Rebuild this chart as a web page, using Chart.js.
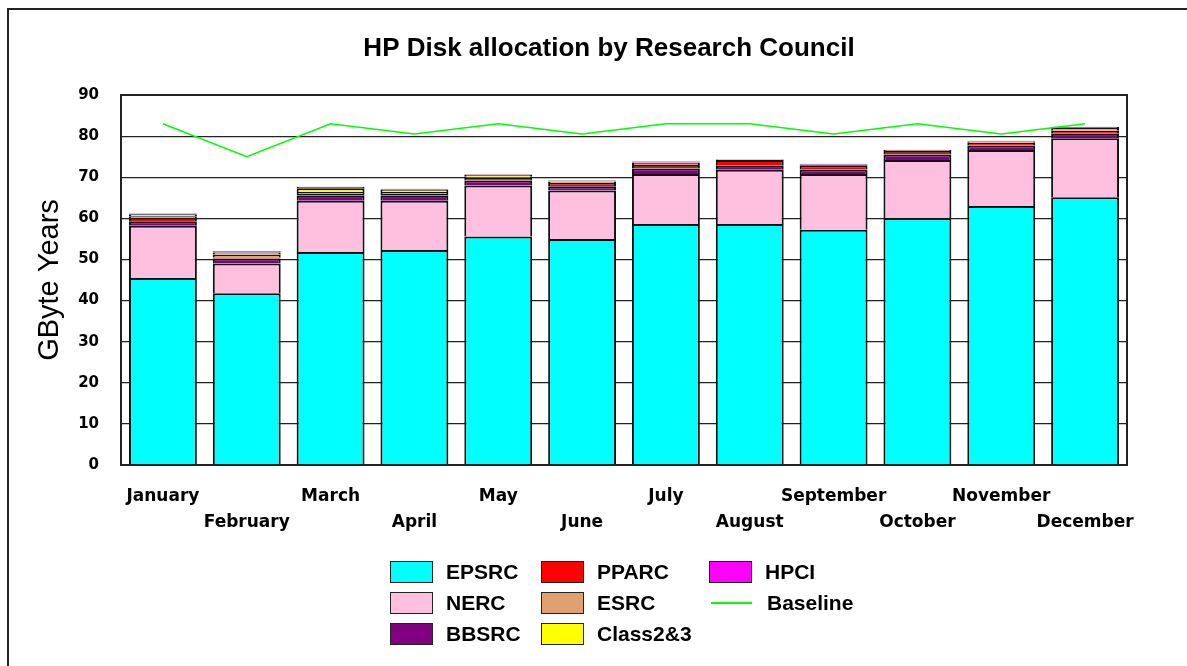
<!DOCTYPE html>
<html>
<head>
<meta charset="utf-8">
<script src="https://cdn.jsdelivr.net/npm/chart.js@4/dist/chart.umd.min.js"></script>
<style>
  body { margin: 0; background: #fff; }
  #wrap { position: relative; width: 1187px; height: 666px; overflow: hidden; }
  #frame { position: absolute; left: 7px; top: 8px; width: 1200px; height: 700px; border: 2px solid #222; }
  #legend { position: absolute; left: 390px; top: 556px; display: grid;
            grid-template-columns: 151px 168px 200px;
            grid-auto-flow: column; grid-template-rows: 31px 31px 31px;
            font: bold 21px "Liberation Sans", Arial, sans-serif; color: #000; }
  .item { display: flex; align-items: center; }
  .box { width: 41px; height: 20px; border: 1.5px solid #222; margin-right: 13px; }
  .ln { width: 41px; height: 2px; margin: 0 15px 0 2px; }
</style>
</head>
<body>
<div id="wrap">
  <div id="frame"></div>
  <canvas id="chart" width="1187" height="666"></canvas>
  <div id="legend"></div>
</div>
<script>
// monthly allocations, GByte years
const months = ['January', 'February', 'March', 'April', 'May', 'June',
                'July', 'August', 'September', 'October', 'November', 'December'];
const epsrc   = [45.5, 41.8, 51.8, 52.3, 55.6, 55.0, 58.6, 58.6, 57.2, 60.1, 63.0, 65.1];
const nerc    = [12.7, 7.2, 12.5, 12.0, 12.4, 11.8, 12.2, 13.2, 13.6, 14.1, 13.6, 14.4];
const bbsrc   = [1.1, 1.2, 1.2, 1.2, 1.2, 1.0, 1.3, 1.0, 1.1, 1.3, 1.1, 1.1];
const pparc   = [0.7, 0.3, 0.4, 0.4, 0.6, 0.8, 0.9, 1.4, 1.0, 0.9, 0.7, 0.7];
const esrc    = [0.5, 0.7, 0.5, 0.5, 0.3, 0.3, 0.5, 0.1, 0.2, 0.2, 0.3, 0.7];
const class23 = [0.5, 0.5, 0.9, 0.6, 0.5, 0.1, 0.1, 0, 0, 0, 0, 0];
const hpci    = [0.2, 0.3, 0.4, 0.2, 0.1, 0.2, 0.2, 0.1, 0.2, 0.1, 0.2, 0.3];
const baseline = [83, 75, 83, 80.5, 83, 80.5, 83, 83, 80.5, 83, 80.5, 83];
const yTicks = [0, 10, 20, 30, 40, 50, 60, 70, 80, 90];
const titleText = 'HP Disk allocation by Research Council';

function bar(label, data, color) {
  return { type: 'bar', label: label, data: data, backgroundColor: color,
           borderColor: '#111', borderWidth: 2, stack: 'rc', order: 1,
           barPercentage: 0.81, categoryPercentage: 1.0 };
}

const bars = [
  bar('EPSRC', epsrc, '#00ffff'),
  bar('NERC', nerc, '#ffc0e0'),
  bar('BBSRC', bbsrc, '#800080'),
  bar('PPARC', pparc, '#ff0000'),
  bar('ESRC', esrc, '#e0a070'),
  bar('Class2&3', class23, '#ffff00'),
  bar('HPCI', hpci, '#ff00ff')
];
const line = { type: 'line', label: 'Baseline', data: baseline, borderColor: '#00ff00',
               borderWidth: 1.5, pointRadius: 0, tension: 0, fill: false, stack: 'base', order: 0 };

// plot frame + title (title sits a bit left of the plot centre in the original)
const frameBox = {
  id: 'frameBox',
  afterDraw(chart) {
    const a = chart.chartArea, c = chart.ctx;
    c.save();
    c.strokeStyle = '#222';
    c.lineWidth = 2;
    c.strokeRect(a.left, a.top, a.right - a.left, a.bottom - a.top);
    c.fillStyle = '#000';
    c.font = 'bold 26px "Liberation Sans", Arial, sans-serif';
    c.textAlign = 'center';
    c.textBaseline = 'middle';
    c.fillText(titleText, (a.left + a.right) / 2 - 15, a.top - 46);
    c.restore();
  }
};

const tickFont = { family: '"DejaVu Sans", sans-serif', weight: 'bold' };

new Chart(document.getElementById('chart'), {
  data: { labels: months, datasets: [...bars, line] },
  plugins: [frameBox],
  options: {
    responsive: false,
    animation: false,
    layout: { padding: { left: 0, right: 60, top: 95, bottom: 126 } },
    plugins: {
      legend: { display: false },
      tooltip: { enabled: false },
      title: { display: false }
    },
    scales: {
      x: {
        stacked: true,
        grid: { display: false, drawTicks: false },
        border: { display: false },
        afterFit(s) { s.height = 75; },
        ticks: {
          autoSkip: false, maxRotation: 0, padding: 19, color: '#000',
          font: { ...tickFont, size: 17, lineHeight: 1.5 },
          callback(v, i) { return i % 2 === 0 ? [months[i], ''] : ['', months[i]]; }
        }
      },
      y: {
        stacked: true, min: 0, max: 90,
        afterBuildTicks(s) { s.ticks = yTicks.map(v => ({ value: v })); },
        afterFit(s) { s.width = 121; },
        grid: { color: '#222', lineWidth: 1.2, drawTicks: false },
        border: { color: '#222', width: 2 },
        ticks: { padding: 22, color: '#000', font: { ...tickFont, size: 15 } },
        title: { display: true, text: 'GByte Years', color: '#000',
                 font: { family: '"Liberation Sans", Arial, sans-serif', size: 29 },
                 padding: { top: 33, bottom: 0 } }
      }
    }
  }
});

// legend laid out column-wise like the original
const legendItems = [...bars, line];
const legendEl = document.getElementById('legend');
legendItems.forEach(d => {
  const item = document.createElement('div');
  item.className = 'item';
  const sw = document.createElement('span');
  if (d.type === 'line') {
    sw.className = 'ln';
    sw.style.background = d.borderColor;
  } else {
    sw.className = 'box';
    sw.style.background = d.backgroundColor;
  }
  item.appendChild(sw);
  item.appendChild(document.createTextNode(d.label));
  legendEl.appendChild(item);
});
</script>
</body>
</html>
